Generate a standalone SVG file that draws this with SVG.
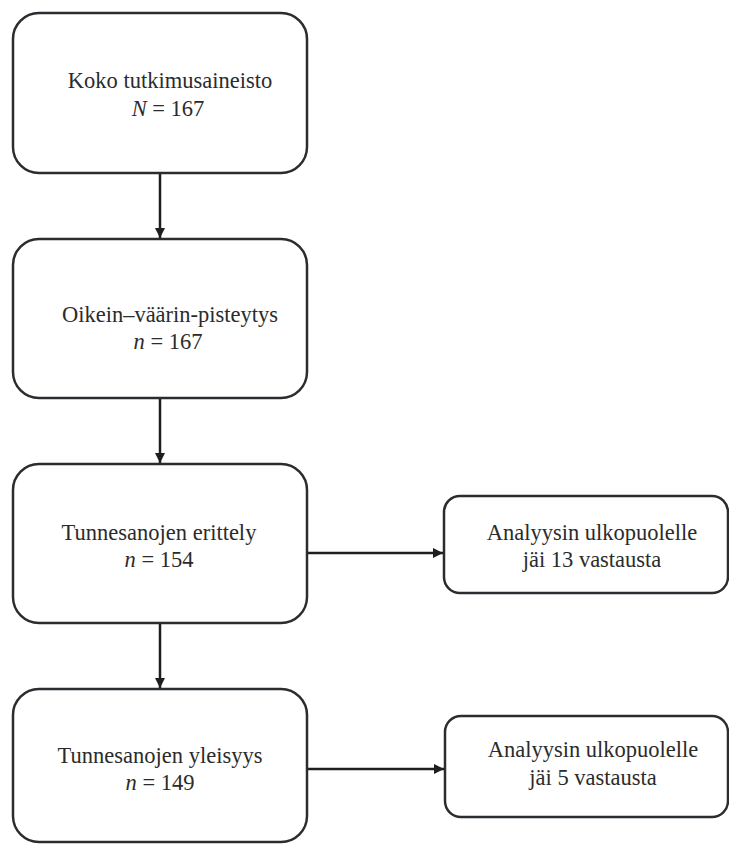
<svg xmlns="http://www.w3.org/2000/svg" width="729" height="845" viewBox="0 0 729 845">
<style>
.box{fill:#fff;stroke:#2a2d30;stroke-width:2.5}
.t{font-family:"Liberation Serif","Times New Roman",serif;font-size:22.5px;fill:#2b2b2b;text-anchor:middle}
.i{font-style:italic}
.c{stroke:#1e1e1e;stroke-width:2.5;fill:none}
</style>
<defs>
<marker id="ah" viewBox="0 0 10 10" refX="10" refY="5" markerWidth="4" markerHeight="4" orient="auto" markerUnits="strokeWidth">
<path d="M0,0 L10,5 L0,10 z" fill="#1e1e1e"/>
</marker>
</defs>
<rect width="729" height="845" fill="#fff"/>
<g id="connectors">
<line class="c" x1="160" y1="173" x2="160" y2="238" marker-end="url(#ah)"/>
<line class="c" x1="160" y1="398" x2="160" y2="463" marker-end="url(#ah)"/>
<line class="c" x1="160" y1="623" x2="160" y2="688" marker-end="url(#ah)"/>
<line class="c" x1="307" y1="553" x2="443" y2="553" marker-end="url(#ah)"/>
<line class="c" x1="307" y1="769" x2="444" y2="769" marker-end="url(#ah)"/>
</g>
<g id="n1">
<rect class="box" x="13" y="13" width="294" height="160" rx="26"/>
<text class="t" x="170" y="88">Koko tutkimusaineisto</text>
<text class="t" x="168" y="116"><tspan class="i">N</tspan> = 167</text>
</g>
<g id="n2">
<rect class="box" x="13" y="239" width="294" height="159" rx="26"/>
<text class="t" x="170" y="322">Oikein–väärin-pisteytys</text>
<text class="t" x="168" y="349"><tspan class="i">n</tspan> = 167</text>
</g>
<g id="n3">
<rect class="box" x="13" y="464" width="294" height="159" rx="26"/>
<text class="t" x="159" y="540">Tunnesanojen erittely</text>
<text class="t" x="159" y="567"><tspan class="i">n</tspan> = 154</text>
</g>
<g id="n4">
<rect class="box" x="13" y="689" width="294" height="153" rx="26"/>
<text class="t" x="160" y="763">Tunnesanojen yleisyys</text>
<text class="t" x="160" y="790"><tspan class="i">n</tspan> = 149</text>
</g>
<g id="n5">
<rect class="box" x="444" y="496" width="284" height="97" rx="16"/>
<text class="t" x="592" y="540">Analyysin ulkopuolelle</text>
<text class="t" x="592" y="567">jäi 13 vastausta</text>
</g>
<g id="n6">
<rect class="box" x="445" y="716" width="283" height="101" rx="16"/>
<text class="t" x="593" y="757">Analyysin ulkopuolelle</text>
<text class="t" x="593" y="785">jäi 5 vastausta</text>
</g>
</svg>
